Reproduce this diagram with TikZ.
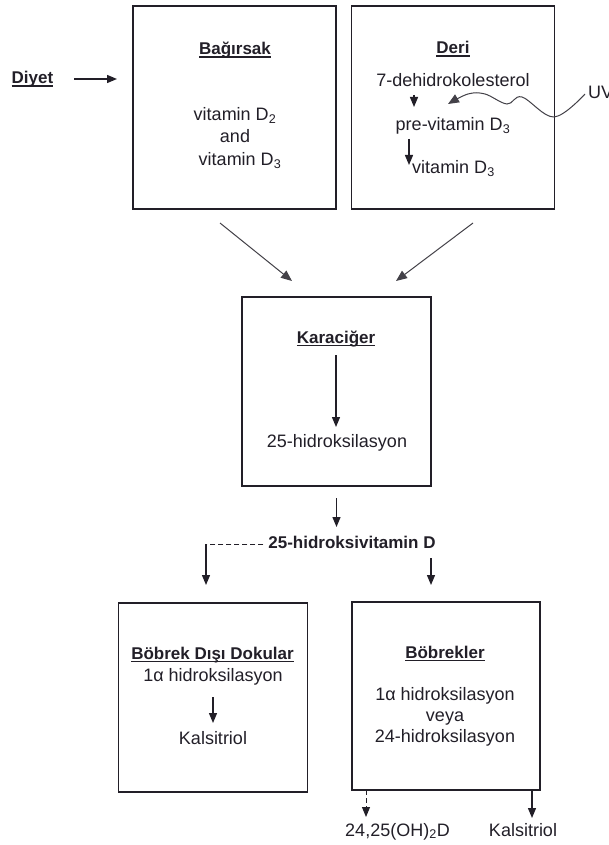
\documentclass[tikz,border=0pt]{standalone}
\usepackage{fontspec}
\setmainfont{Liberation Sans}
\usetikzlibrary{arrows.meta,calc}
\definecolor{ink}{RGB}{34,31,40}
\newcommand{\ulx}[1]{\setbox0\hbox{#1}\rlap{\rule[-2.6pt]{\wd0}{1.1pt}}\box0}
\begin{document}
\begin{tikzpicture}[x=1pt,y=-1pt,
  every node/.style={text=ink, inner sep=0pt, outer sep=0pt},
  box/.style={draw=ink, line width=1.4pt, minimum width=#1, minimum height=#1},
  t/.style={font=\fontsize{18}{20}\selectfont, text height=13pt, text depth=1pt},
  tb/.style={font=\fontsize{17}{20}\selectfont\bfseries, text height=13pt, text depth=1pt},
  arr/.style={draw=ink, line width=1.3pt, -{Triangle[length=10pt,width=8pt]}},
  thinarr/.style={draw=ink!85, line width=1pt, -{Triangle[length=11pt,width=9pt]}},
  dashline/.style={draw=ink, line width=1pt, dash pattern=on 5pt off 3pt},
  ]
\useasboundingbox[fill=white] (0,0) rectangle (608,845);

% boxes
\node[box=203pt] (bag) at (234.5,107.5) {};
\node[box=203pt] (deri) at (452.75,107.5) {};
\node[box=189pt] (kar) at (336.5,391.5) {};
\node[box=189pt] (bdd) at (213,697.5) {};
\node[box=188pt] (bob) at (446,696) {};

% Diyet
\node[tb] (diyet) at (32.5,78) {\ulx{Diyet}};
\draw[arr] ($(diyet.center)+(41.5,1)$) -- ($(bag.west)+(-16,-28.5)$);

% Bagirsak
\node[tb] (bagt) at (235,49) {\ulx{Bağırsak}};
\node[t] (bag1) at (235,115) {vitamin D\textsubscript{2}};
\node[t] (bag2) at (235,137) {and};
\node[t] (bag3) at (240,160) {vitamin D\textsubscript{3}};

% Deri
\node[tb] (derit) at (453,48) {\ulx{Deri}};
\node[t] (dh) at (453,81) {7-dehidrokolesterol};
\node[t] (pv) at (453,125) {pre-vitamin D\textsubscript{3}};
\node[t] (vd) at (453.5,168) {vitamin D\textsubscript{3}};
\draw[arr] ($(dh.center)+(-39,14)$) -- ($(pv.center)+(-39,-18)$);
\draw[arr] ($(pv.center)+(-44,14)$) -- ($(vd.center)+(-44.5,-3)$);

% UV
\node[t, anchor=west] (uv) at (588,93) {UV};
\coordinate (uvtip) at (448,104);
\draw[thinarr] plot[smooth, tension=0.6] coordinates {($(uv.west)+(-3,1)$) (554,117) (522,97) (507,104) (485,94) (468,94) (uvtip)};

% to liver
\draw[thinarr] ($(bag.south)+(-14.5,14)$) -- ($(kar.north)+(-44.5,-16)$);
\draw[thinarr] ($(deri.south)+(20.25,14)$) -- ($(kar.north)+(59.5,-16)$);

% Karaciger
\node[tb] (kart) at (336,337) {\ulx{Karaciğer}};
\node[t] (karh) at (337,441) {25-hidroksilasyon};
\draw[arr] ($(kart.center)+(0,18)$) -- ($(karh.center)+(-1,-14)$);

% 25-hidroksivitamin D
\node[tb] (hv) at (352,542) {25-hidroksivitamin D};
\draw[arr] ($(kar.south)+(0,12)$) -- ($(hv.center)+(-15.5,-15)$);
\coordinate (c1) at (206,544);
\draw[dashline] ($(hv.west)+(-5,2)$) -- (c1);
\draw[arr] (c1) -- ($(bdd.north)+(-7,-18)$);
\draw[arr] ($(hv.center)+(79,16)$) -- ($(bob.north)+(-15,-17)$);

% Bobrek Disi Dokular
\node[tb] (bddt) at (212.5,653) {\ulx{Böbrek Dışı Dokular}};
\node[t] (bdd1) at (213,675) {1α hidroksilasyon};
\node[t] (bdd2) at (213,738) {Kalsitriol};
\draw[arr] ($(bdd1.center)+(0,22)$) -- ($(bdd2.center)+(0,-15)$);

% Bobrekler
\node[tb] (bobt) at (445,652) {\ulx{Böbrekler}};
\node[t] (bob1) at (445,694) {1α hidroksilasyon};
\node[t] (bob2) at (445,715) {veya};
\node[t] (bob3) at (445,736) {24-hidroksilasyon};

% outputs
\node[t] (o24) at (397.5,830) {24,25(OH)\textsubscript{2}D};
\node[t] (okal) at (523,830) {Kalsitriol};
\draw[dashline, -{Triangle[length=10pt,width=8pt]}] ($(bob.south)+(-80,0)$) -- ($(o24.center)+(-31.5,-13)$);
\draw[arr] ($(bob.south)+(86,0)$) -- ($(okal.center)+(9,-12)$);
\end{tikzpicture}
\end{document}
